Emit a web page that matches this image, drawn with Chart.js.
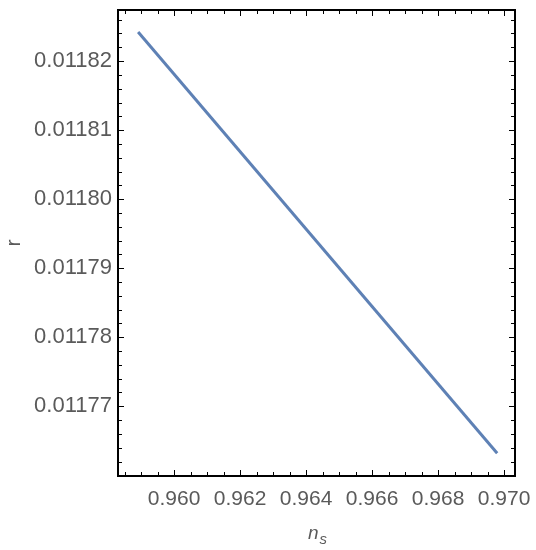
<!DOCTYPE html>
<html>
<head>
<meta charset="utf-8">
<script src="https://cdn.jsdelivr.net/npm/chart.js@4"></script>
<style>
  html, body { margin: 0; padding: 0; background: #fff; }
  #wrap { width: 536px; height: 550px; }
</style>
</head>
<body>
<div id="wrap"><canvas id="nsChart" width="536" height="550"></canvas></div>
<script>
// values
const nsValues = [0.95891, 0.96979];
const rValues = [0.0118242, 0.0117632];
const xTicks = [0.960, 0.962, 0.964, 0.966, 0.968, 0.970];
const yTicks = [0.01177, 0.01178, 0.01179, 0.01180, 0.01181, 0.01182];
const xMinorStep = 0.0005;
const yMinorStep = 0.000002;

const labelColor = "#5a5a5a";

// frame with inward ticks, like a Mathematica plot
const framePlugin = {
  id: "frame",
  afterDraw(chart) {
    const c = chart.ctx;
    const a = chart.chartArea;
    const xs = chart.scales.x;
    const ys = chart.scales.y;
    c.save();
    c.strokeStyle = "#000";
    c.lineWidth = 1;
    const tick = (x1, y1, x2, y2) => {
      c.beginPath();
      c.moveTo(x1, y1);
      c.lineTo(x2, y2);
      c.stroke();
    };
    const xStart = Math.ceil(xs.min / xMinorStep);
    const xEnd = Math.floor(xs.max / xMinorStep);
    for (let i = xStart; i <= xEnd; i++) {
      const len = i % 4 === 0 ? 6 : 4;
      const px = Math.round(xs.getPixelForValue(i * xMinorStep)) + 0.5;
      tick(px, a.bottom, px, a.bottom - len);
      tick(px, a.top, px, a.top + len);
    }
    const yStart = Math.ceil(ys.min / yMinorStep - 1e-6);
    const yEnd = Math.floor(ys.max / yMinorStep + 1e-6);
    for (let i = yStart; i <= yEnd; i++) {
      const len = i % 5 === 0 ? 6 : 4;
      const py = Math.round(ys.getPixelForValue(i * yMinorStep)) + 0.5;
      tick(a.left, py, a.left + len, py);
      tick(a.right, py, a.right - len, py);
    }
    c.lineWidth = 2;
    c.strokeRect(a.left, a.top, a.right - a.left, a.bottom - a.top);

    // axis titles
    c.fillStyle = labelColor;
    c.textAlign = "center";
    c.textBaseline = "middle";
    c.font = "21px 'Liberation Sans'";
    c.save();
    c.translate(14, 243);
    c.rotate(-Math.PI / 2);
    c.fillText("r", 0, 0);
    c.restore();
    c.textAlign = "left";
    c.textBaseline = "alphabetic";
    c.font = "italic 19px 'Liberation Sans'";
    const nW = c.measureText("n").width;
    c.fillText("n", 308, 539);
    c.font = "italic 15px 'Liberation Sans'";
    c.fillText("s", 309 + nW, 544);
    c.restore();
  }
};

const chart = new Chart(document.getElementById("nsChart"), {
  type: "line",
  data: {
    datasets: [{
      data: nsValues.map((x, i) => ({ x: x, y: rValues[i] })),
      borderColor: "#5e81b5",
      borderWidth: 3,
      pointRadius: 0,
      fill: false,
      tension: 0
    }]
  },
  options: {
    responsive: false,
    animation: false,
    layout: { padding: { top: 10, right: 21, left: 0, bottom: 0 } },
    plugins: { legend: { display: false }, tooltip: { enabled: false } },
    scales: {
      x: {
        type: "linear",
        min: 0.95830,
        max: 0.97033,
        grid: { display: false, drawTicks: false },
        border: { display: false },
        afterFit: (s) => { s.height = 74; s.paddingLeft = 0; s.paddingRight = 0; },
        afterBuildTicks: (s) => { s.ticks = xTicks.map((v) => ({ value: v })); },
        ticks: {
          padding: 11,
          font: { family: "Liberation Sans", size: 21 },
          color: labelColor,
          maxRotation: 0,
          autoSkip: false,
          callback: (v) => v.toFixed(3)
        }
      },
      y: {
        type: "linear",
        min: 0.0117599,
        max: 0.0118274,
        grid: { display: false, drawTicks: false },
        border: { display: false },
        afterFit: (s) => { s.width = 118; s.paddingTop = 0; s.paddingBottom = 0; },
        afterBuildTicks: (s) => { s.ticks = yTicks.map((v) => ({ value: v })); },
        ticks: {
          padding: 6,
          font: { family: "Liberation Sans", size: 22 },
          color: labelColor,
          autoSkip: false,
          callback: (v) => v.toFixed(5)
        }
      }
    }
  },
  plugins: [framePlugin]
});
</script>
</body>
</html>
